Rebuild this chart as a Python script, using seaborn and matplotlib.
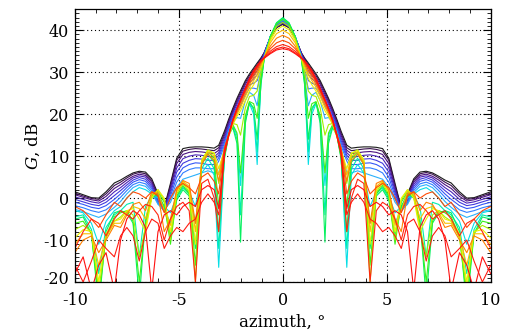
import numpy as np
import pandas as pd
import matplotlib
matplotlib.use("Agg")
import matplotlib.pyplot as plt
from matplotlib.colors import LinearSegmentedColormap
from matplotlib.ticker import MultipleLocator
from matplotlib.transforms import ScaledTranslation
import seaborn as sns

# half pattern (azimuth >= 0), mirrored to negative azimuths
azimuth_half = [0, 0.3, 0.6, 0.9, 1.05, 1.23, 1.4, 1.6, 1.8, 2.03, 2.2, 2.4, 2.6, 2.8,
                3.08, 3.3, 3.6, 3.9, 4.2, 4.5, 4.8, 5.1, 5.4, 5.7, 6.0, 6.3, 6.6, 6.9,
                7.2, 7.5, 7.8, 8.1, 8.5, 8.85, 9.2, 9.6, 10.0]

gain_curves = [
    [41.4, 40.6, 38.2, 34.6, 33.4, 32.2, 31.0, 29.6, 28.0, 25.6, 23.8, 21.4, 18.8, 16.0, 12.6, 11.9, 12.1, 12.2, 12.2, 12.1, 11.8, 9.5, 3.5, -2.3, 1.0, 4.6, 6.2, 6.4, 6.0, 5.2, 4.3, 3.6, 1.5, 0.0, 0.1, 0.8, 1.5],
    [41.5, 40.7, 38.3, 34.5, 33.2, 31.8, 30.6, 29.2, 27.6, 25.2, 23.4, 21.0, 18.4, 15.5, 12.0, 11.3, 11.5, 11.7, 11.8, 11.6, 11.2, 9.0, 3.0, -2.5, 0.6, 4.2, 5.8, 6.1, 5.7, 4.8, 3.8, 3.0, 1.0, -0.3, -0.1, 0.5, 1.2],
    [41.6, 40.8, 38.3, 34.4, 33.0, 31.2, 30.0, 28.7, 27.1, 24.7, 22.9, 20.6, 18.0, 15.0, 11.4, 10.6, 10.8, 11.0, 11.1, 10.9, 10.4, 8.2, 2.4, -2.6, 0.2, 3.8, 5.4, 5.7, 5.2, 4.3, 3.2, 2.3, 0.4, -0.7, -0.4, 0.2, 0.8],
    [41.8, 40.9, 38.4, 34.3, 32.6, 30.4, 29.2, 28.1, 26.5, 24.2, 22.4, 20.2, 17.5, 14.4, 10.8, 9.8, 9.9, 10.2, 10.3, 10.0, 9.4, 7.2, 1.8, -2.8, -0.2, 3.3, 5.0, 5.3, 4.8, 3.7, 2.5, 1.5, -0.3, -1.2, -0.9, -0.3, 0.3],
    [42.0, 41.0, 38.5, 34.1, 32.0, 29.4, 28.4, 27.6, 26.0, 23.6, 21.8, 19.7, 17.0, 13.8, 10.2, 9.0, 9.0, 9.3, 9.4, 9.0, 8.3, 6.2, 1.2, -3.0, -0.6, 2.8, 4.5, 4.9, 4.3, 3.1, 1.8, 0.6, -1.0, -1.8, -1.5, -0.9, -0.3],
    [42.2, 41.2, 38.5, 33.9, 31.2, 28.0, 27.4, 27.0, 25.4, 23.0, 21.2, 19.2, 16.5, 13.2, 9.6, 8.0, 8.0, 8.3, 8.4, 8.0, 7.2, 5.0, 0.5, -3.2, -1.0, 2.3, 4.0, 4.4, 3.8, 2.5, 1.0, -0.3, -1.8, -2.5, -2.2, -1.5, -1.0],
    [42.4, 41.3, 38.5, 33.7, 30.2, 26.0, 26.2, 26.2, 24.6, 22.0, 20.4, 18.7, 16.0, 12.6, 8.8, 7.0, 7.0, 7.2, 7.2, 6.8, 6.0, 3.8, -0.3, -3.0, -1.3, 1.8, 3.4, 3.8, 3.2, 1.8, 0.2, -1.2, -2.8, -3.4, -3.0, -2.3, -1.8],
    [42.6, 41.5, 38.5, 33.5, 29.0, 22.0, 24.5, 25.2, 23.2, 19.0, 19.2, 18.2, 15.8, 12.0, 6.0, 6.0, 6.5, 6.0, 5.5, 5.0, 4.5, 2.6, -1.0, -2.8, -1.5, 1.3, 2.8, 3.2, 2.5, 1.0, -0.8, -2.2, -3.8, -4.6, -4.0, -3.2, -2.7],
    [42.8, 41.6, 38.4, 33.2, 28.0, 8.0, 20.0, 22.5, 19.5, 3.0, 15.0, 17.2, 15.5, 10.5, -16.5, 5.5, 8.0, 6.0, -2.0, 1.5, 2.5, 0.5, -3.5, -2.0, 0.0, 1.0, 2.0, 2.5, 1.5, 0.0, -2.0, -3.0, -5.5, -11.0, -6.0, -3.5, -3.0],
    [42.9, 41.7, 38.5, 33.0, 27.5, 11.0, 21.0, 22.8, 18.5, -4.0, 14.0, 17.0, 15.2, 10.0, -12.0, 7.0, 9.5, 7.0, -6.0, 1.0, 2.5, 0.0, -6.0, -2.5, 0.5, 0.5, -2.0, -14.0, -1.0, -1.5, -3.0, -4.0, -7.0, -18.0, -7.5, -4.0, -4.5],
    [43.0, 41.8, 38.5, 32.9, 27.0, 14.0, 21.5, 22.8, 17.8, -10.5, 13.0, 16.8, 15.0, 9.5, -8.0, 8.5, 10.5, 8.0, -12.0, 0.5, 2.0, -0.5, -9.0, -2.0, 1.0, 0.0, -5.0, -24.0, -6.0, -3.5, -3.0, -3.5, -8.0, -26.0, -8.5, -4.5, -5.0],
    [42.6, 41.5, 38.3, 33.0, 28.5, 19.0, 22.5, 23.0, 19.5, 6.0, 15.5, 17.5, 15.0, 10.0, -2.0, 9.5, 11.0, 8.5, -16.0, 1.0, 3.0, 0.5, -11.0, -1.0, 1.5, 0.5, -6.0, -20.0, -5.5, -3.0, -3.5, -4.5, -9.0, -24.0, -8.5, -5.5, -6.0],
    [41.9, 40.9, 38.0, 33.1, 30.0, 25.5, 24.5, 24.2, 21.5, 15.0, 17.5, 17.8, 15.2, 11.0, 3.5, 10.5, 11.5, 9.0, -20.0, 1.5, 3.5, 1.0, -10.0, -0.5, 2.0, 0.5, -7.0, -14.0, -4.0, -3.0, -4.5, -5.5, -9.5, -22.0, -8.0, -6.5, -7.5],
    [41.0, 40.1, 37.5, 33.3, 31.0, 28.5, 27.0, 25.5, 23.2, 20.8, 19.5, 17.5, 14.6, 11.5, 7.0, 10.8, 11.3, 9.0, -11.0, 2.0, 3.8, 1.5, -8.0, 0.0, 2.0, 0.0, -8.0, -5.0, -2.5, -3.0, -5.0, -5.5, -8.5, -20.0, -8.0, -7.5, -9.5],
    [40.0, 39.2, 37.0, 33.4, 31.6, 29.4, 28.0, 26.4, 24.2, 21.6, 20.0, 17.8, 14.8, 11.8, 5.5, 10.0, 11.0, 8.5, -8.0, 2.8, 4.0, 1.8, -6.5, -3.0, 1.5, 1.0, -5.0, -2.5, -2.0, -3.5, -6.0, -6.0, -9.0, -16.0, -8.5, -8.5, -11.0],
    [38.8, 38.1, 36.2, 33.4, 32.0, 30.2, 28.8, 27.1, 25.0, 22.4, 20.5, 18.1, 15.0, 12.0, 4.0, 9.0, 10.5, 8.0, -6.0, 3.5, 4.2, 2.0, -5.0, -8.0, 1.0, 1.5, -3.0, -1.0, -1.5, -4.0, -7.0, -6.5, -10.0, -13.0, -9.0, -10.0, -13.0],
    [37.6, 37.0, 35.6, 33.5, 32.4, 30.9, 29.5, 27.7, 25.6, 23.0, 21.0, 18.5, 15.2, 12.0, 1.0, 4.0, 6.0, 5.0, 1.0, 2.5, 3.5, 2.5, 0.0, -3.5, 0.5, 1.5, 0.0, 1.0, 1.5, 0.0, -2.0, -1.0, -4.0, -7.0, -5.0, -3.0, -2.0],
    [36.6, 36.1, 35.0, 33.5, 32.6, 31.3, 29.9, 28.0, 25.8, 23.2, 21.2, 18.6, 15.2, 11.5, -8.0, 0.0, 4.5, 3.5, -20.0, -3.0, -1.0, -2.0, -5.0, -10.0, -4.0, -2.0, -1.5, -3.0, -5.0, -4.0, -3.0, -5.0, -9.0, -6.0, -5.0, -8.0, -12.0],
    [36.0, 35.6, 34.6, 33.4, 32.7, 31.5, 30.2, 28.3, 26.0, 23.4, 21.3, 18.6, 15.0, 11.0, -4.0, -1.0, 1.0, -1.0, -5.0, -6.0, -8.0, -7.0, -9.0, -12.0, -6.0, -5.0, -8.0, -15.0, -9.0, -7.0, -9.0, -14.0, -12.0, -10.0, -15.0, -20.0, -16.0],
    [35.6, 35.3, 34.4, 33.3, 32.7, 31.6, 30.4, 28.5, 26.2, 23.5, 21.4, 18.6, 14.8, 10.5, -2.5, 2.0, 3.0, 2.0, -2.0, -1.0, -2.0, -4.0, -3.0, -4.0, -8.0, -22.0, -7.0, -4.0, -3.0, -5.0, -10.0, -22.0, -13.0, -16.0, -22.0, -14.0, -18.0],
]

x_half = np.array(azimuth_half)
x_full = np.concatenate([-x_half[::-1], x_half[1:]])
rows = []
for i, g in enumerate(gain_curves):
    g = np.array(g)
    g_full = np.concatenate([g[::-1], g[1:]])
    rows.append(pd.DataFrame({"azimuth": x_full, "gain": g_full, "curve": i}))
df = pd.concat(rows, ignore_index=True)

# rainbow table black -> purple -> blue -> cyan -> green -> yellow -> red
cmap = LinearSegmentedColormap.from_list("rainbow_black", [
    (0.00, "#1a1a1a"), (0.08, "#4a0a6a"), (0.18, "#4a2ad0"), (0.28, "#2f60ff"),
    (0.36, "#30a8ff"), (0.43, "#00e8e0"), (0.50, "#00f090"), (0.56, "#10f020"),
    (0.63, "#a0f000"), (0.69, "#f0f000"), (0.76, "#ffa800"), (0.82, "#ff6000"),
    (0.88, "#ff2a10"), (1.00, "#ff1010")])
n = len(gain_curves)
palette = [cmap(i / (n - 1)) for i in range(n)]

sns.set_theme(style="ticks")
plt.rcParams["font.family"] = ["DejaVu Serif"]
plt.rcParams["mathtext.fontset"] = "dejavuserif"
plt.rcParams["axes.unicode_minus"] = False

fig, ax = plt.subplots(figsize=(5.09, 3.31), dpi=100)
fig.subplots_adjust(left=0.147, right=0.964, bottom=0.148, top=0.972)

sns.lineplot(data=df, x="azimuth", y="gain", hue="curve", palette=palette,
             estimator=None, legend=False, linewidth=0.8, ax=ax)

ax.set_xlim(-10, 10)
ax.set_ylim(-20, 45)
ax.xaxis.set_major_locator(MultipleLocator(5))
ax.xaxis.set_minor_locator(MultipleLocator(1))
ax.yaxis.set_major_locator(MultipleLocator(10))
ax.yaxis.set_minor_locator(MultipleLocator(1))
ax.tick_params(which="both", direction="in", top=True, right=True, colors="black",
               labelsize=11.5)
ax.tick_params(which="major", length=6, width=0.8)
ax.tick_params(which="minor", length=3, width=0.6)
ax.tick_params(axis="x", which="major", pad=7)
ax.tick_params(axis="y", which="major", pad=4)
for s in ax.spines.values():
    s.set_color("black")
    s.set_linewidth(0.9)
ax.grid(True, which="major", linestyle=(0, (1, 2.5)), color="black", linewidth=0.8)
ax.set_xlabel("azimuth, °", fontsize=12, labelpad=4, color="black")
ax.set_ylabel("$G$, dB", fontsize=12, labelpad=1, color="black")

# lowest y label sits a little above its tick, as in the original
fig.canvas.draw()
for lab in ax.get_yticklabels():
    if lab.get_text() == "-20":
        lab.set_transform(lab.get_transform() + ScaledTranslation(0, 0.045, fig.dpi_scale_trans))

plt.savefig("out.png", dpi=100)
